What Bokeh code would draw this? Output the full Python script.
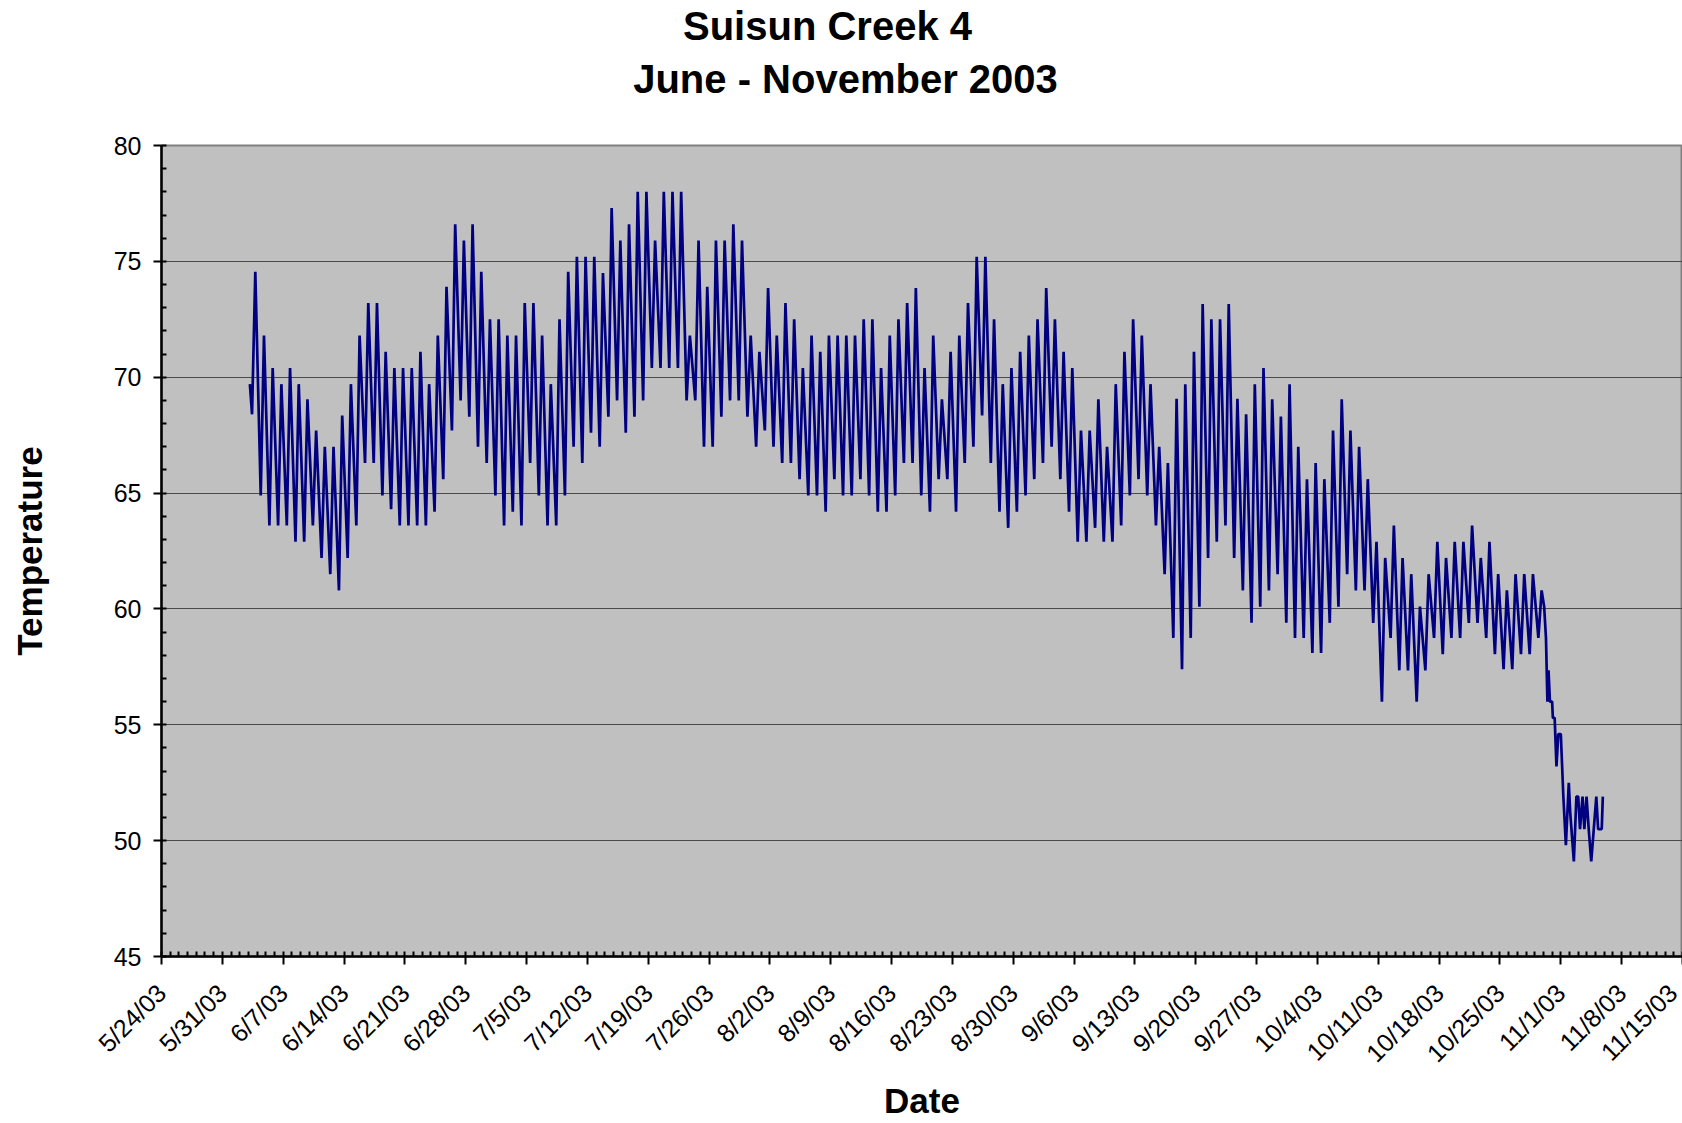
import numpy as np
from bokeh.plotting import figure
from bokeh.models import FixedTicker, Range1d, ColumnDataSource, LinearAxis
from bokeh.embed import file_html
from bokeh.resources import INLINE

# ---------------- data ----------------
title_line1 = "Suisun Creek 4"
title_line2 = "June - November 2003"
x_label = "Date"
y_label = "Temperature"

first_day = "2003-06-03"            # first day with daily min / max readings
start_time = "2003-06-03T04:00"      # first logged reading
start_temp = 69.7

daily_min = [
    68.4, 64.9, 63.6, 63.6, 63.6, 62.9, 62.9, 63.6, 62.2, 61.5,
    60.8, 62.2, 63.6, 66.3, 66.3, 64.9, 64.3, 63.6, 63.6, 63.6,
    63.6, 64.2, 65.6, 67.7, 69.0, 68.3, 67.0, 66.3, 64.9, 63.6,
    64.2, 63.6, 66.3, 64.9, 63.6, 63.6, 64.9, 67.0, 66.3, 67.6,
    67.0, 68.3, 69.0, 67.6, 68.3, 69.0, 70.4, 70.4, 70.4, 70.4,
    69.0, 69.0, 67.0, 67.0, 68.3, 69.0, 69.0, 68.3, 67.0, 67.7,
    67.0, 66.3, 66.3, 65.6, 64.9, 64.9, 64.2, 65.6, 64.9, 64.9,
    65.6, 64.9, 64.2, 64.2, 64.9, 66.3, 66.3, 64.9, 64.2, 65.6,
    65.6, 64.2, 66.3, 67.0, 68.35, 66.3, 64.2, 63.5, 64.2, 64.9,
    65.6, 66.3, 67.0, 65.6, 64.2, 62.9, 62.9, 63.5, 62.9, 62.9,
    63.6, 64.9, 65.6, 64.9, 63.6, 61.5, 58.75, 57.4, 58.75, 60.1,
    62.2, 62.9, 63.6, 62.2, 60.8, 59.4, 60.1, 60.8, 61.5, 59.4,
    58.75, 58.75, 58.1, 58.1, 59.4, 60.1, 61.5, 60.8, 60.8, 59.4,
    56.0, 58.75, 57.35, 57.35, 56.0, 57.35, 58.75, 58.05, 58.75, 58.75,
    59.4, 59.4, 58.75, 58.05, 57.4, 57.4, 58.05, 58.05, 58.75,
]
daily_max = [
    74.55, 71.8, 70.4, 69.7, 70.4, 69.7, 69.05, 67.7, 67.0, 67.0,
    68.35, 69.7, 71.8, 73.2, 73.2, 71.1, 70.4, 70.4, 70.4, 71.1,
    69.7, 71.8, 73.9, 76.6, 75.9, 76.6, 74.55, 72.5, 72.5, 71.8,
    71.8, 73.2, 73.2, 71.8, 69.7, 72.5, 74.55, 75.2, 75.2, 75.2,
    74.5, 77.3, 75.9, 76.6, 78.0, 78.0, 75.9, 78.0, 78.0, 78.0,
    71.8, 75.9, 73.9, 75.9, 75.9, 76.6, 75.9, 71.8, 71.1, 73.85,
    71.8, 73.2, 72.5, 70.4, 71.8, 71.1, 71.8, 71.8, 71.8, 71.8,
    72.5, 72.5, 70.4, 71.8, 72.5, 73.2, 73.85, 70.4, 71.8, 69.05,
    71.1, 71.8, 73.2, 75.2, 75.2, 72.5, 69.7, 70.4, 71.1, 71.8,
    72.5, 73.85, 72.5, 71.1, 70.4, 67.7, 67.7, 69.05, 67.0, 69.7,
    71.1, 72.5, 71.8, 69.7, 67.0, 66.3, 69.07, 69.7, 71.1, 73.16,
    72.5, 72.5, 73.16, 69.07, 68.4, 69.7, 70.4, 69.05, 68.3, 69.7,
    67.0, 65.6, 66.3, 65.6, 67.7, 69.05, 67.7, 67.0, 65.6, 62.9,
    62.2, 63.6, 62.2, 61.5, 60.1, 61.5, 62.9, 62.2, 62.9, 62.9,
    63.6, 62.2, 62.9, 61.5, 60.8, 61.5, 61.5, 61.5, 60.8,
]

# final cold-front days, read point by point (hours after tail_start)
tail_start = "2003-10-30T00:00"
tail_hours = [2, 7, 11, 14, 18, 24, 26, 31, 36, 41, 48, 55, 62, 70, 74,
              84, 91, 96, 101, 108, 113, 119, 125, 132, 139, 146, 151, 161, 164]
tail_temps = [60.1, 58.75, 56.0, 57.35, 56.0, 56.0, 55.3, 55.3, 53.2, 54.6,
              54.6, 51.9, 49.8, 52.5, 51.2, 49.1, 51.9, 51.9, 50.5, 51.9,
              50.5, 51.9, 50.5, 49.1, 50.5, 51.9, 50.5, 50.5, 51.9]

tick_dates = ["2003-05-24", "2003-05-31", "2003-06-07", "2003-06-14", "2003-06-21",
              "2003-06-28", "2003-07-05", "2003-07-12", "2003-07-19", "2003-07-26",
              "2003-08-02", "2003-08-09", "2003-08-16", "2003-08-23", "2003-08-30",
              "2003-09-06", "2003-09-13", "2003-09-20", "2003-09-27", "2003-10-04",
              "2003-10-11", "2003-10-18", "2003-10-25", "2003-11-01", "2003-11-08",
              "2003-11-15"]
tick_labels = ["5/24/03", "5/31/03", "6/7/03", "6/14/03", "6/21/03", "6/28/03",
               "7/5/03", "7/12/03", "7/19/03", "7/26/03", "8/2/03", "8/9/03",
               "8/16/03", "8/23/03", "8/30/03", "9/6/03", "9/13/03", "9/20/03",
               "9/27/03", "10/4/03", "10/11/03", "10/18/03", "10/25/03", "11/1/03",
               "11/8/03", "11/15/03"]
y_ticks = [45, 50, 55, 60, 65, 70, 75, 80]
y_min, y_max = 45, 80

# ---------------- build series ----------------
def ms(t):
    return float((np.datetime64(t, "m") - np.datetime64("1970-01-01T00:00", "m")) / np.timedelta64(1, "ms"))

day0 = np.datetime64(first_day, "m")
hour = np.timedelta64(60, "m")
day = np.timedelta64(1440, "m")
times = [np.datetime64(start_time, "m")]
temps = [start_temp]
for i, (lo, hi) in enumerate(zip(daily_min, daily_max)):
    d = day0 + i * day
    times += [d + 10 * hour, d + 19 * hour]
    temps += [lo, hi]
t0 = np.datetime64(tail_start, "m")
for h, v in zip(tail_hours, tail_temps):
    times.append(t0 + h * hour)
    temps.append(v)

src = ColumnDataSource(dict(t=np.array(times, dtype="datetime64[ms]"), temp=temps))

tick_ms = [ms(d) for d in tick_dates]
minor_ms = list(np.arange(tick_ms[0], tick_ms[-1] + 1, 86400000.0))

# ---------------- layout geometry (pixels) ----------------
W, H = 1682, 1123
LEFT, TOP, BOTTOM, RIGHT = 161, 145, 167, 0
FW = W - LEFT - RIGHT
x0, x1 = tick_ms[0], tick_ms[-1]

def sx(px):   # canvas x pixel -> data x
    return x0 + (px - LEFT) * (x1 - x0) / FW

FONT = "Liberation Sans"
p = figure(width=W, height=H, x_axis_type="datetime",
           x_range=Range1d(x0, x1), y_range=Range1d(y_min, y_max),
           output_backend="svg", toolbar_location=None, title=None,
           min_border_left=LEFT, min_border_right=RIGHT, min_border_top=TOP, min_border_bottom=BOTTOM,
           background_fill_color="#C0C0C0", border_fill_color="white",
           outline_line_color="#808080", outline_line_width=2)

p.line("t", "temp", source=src, line_color="#000080", line_width=2.7)

xa = p.xaxis[0]
ya = p.yaxis[0]

# x axis
xa.ticker = FixedTicker(ticks=tick_ms, minor_ticks=minor_ms)
xa.major_label_overrides = {k: v for k, v in zip(tick_ms, tick_labels)}
xa.major_label_orientation = np.pi / 4
xa.major_label_text_font = FONT
xa.major_label_text_font_size = "25px"
xa.major_label_standoff = 24
xa.axis_label = x_label
xa.axis_label_standoff = 1

# y axis
ya.ticker = FixedTicker(ticks=y_ticks, minor_ticks=list(range(y_min, y_max + 1)))
ya.major_label_text_font = FONT
ya.major_label_text_font_size = "25px"
ya.major_label_standoff = 12
ya.axis_label = y_label
ya.axis_label_standoff = 62

for ax in (xa, ya):
    ax.axis_line_color = "black"
    ax.axis_line_width = 2.5
    ax.major_tick_line_color = "black"
    ax.major_tick_line_width = 2
    ax.major_tick_out = 8
    ax.major_tick_in = 0
    ax.minor_tick_line_color = "black"
    ax.minor_tick_line_width = 2
    ax.minor_tick_out = 0
    ax.minor_tick_in = 5
    ax.major_label_text_color = "black"
    ax.axis_label_text_font = FONT
    ax.axis_label_text_font_size = "35px"
    ax.axis_label_text_font_style = "bold"
    ax.axis_label_text_color = "black"

# two-line chart title: one labelled tick on each of two bare axes above the plot
def title_axis(text, center_px, standoff):
    pos = sx(center_px)
    ax = LinearAxis(ticker=FixedTicker(ticks=[pos]), major_label_overrides={pos: text},
                    axis_line_color=None, major_tick_line_color=None, minor_tick_line_color=None,
                    major_tick_out=0, major_tick_in=0, minor_tick_out=0, minor_tick_in=0,
                    major_label_standoff=standoff,
                    major_label_text_font=FONT, major_label_text_font_size="40px",
                    major_label_text_font_style="bold", major_label_text_color="black")
    p.add_layout(ax, "above")

title_axis(title_line2, 845, 45)
title_axis(title_line1, 827, 6)

p.xgrid.visible = False
p.ygrid.ticker = FixedTicker(ticks=y_ticks)
p.ygrid.grid_line_color = "#4a4a4a"
p.ygrid.grid_line_width = 1

open("out.html", "w").write(file_html(p, INLINE))
